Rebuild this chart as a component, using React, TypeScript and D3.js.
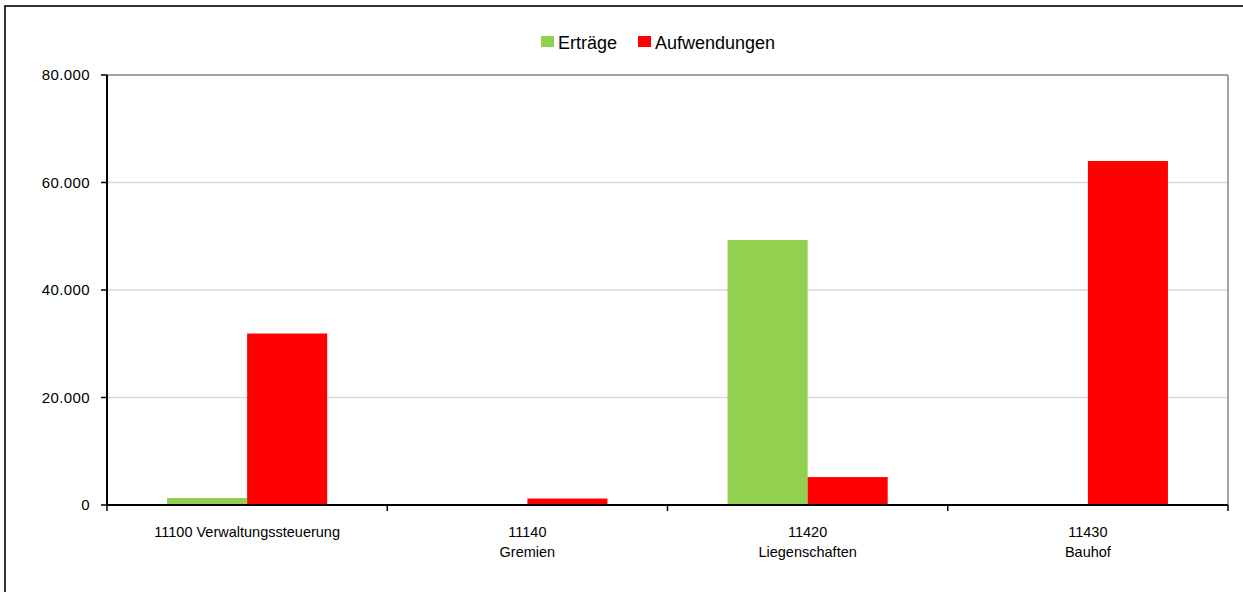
import React from "react";
import * as d3 from "d3";

const categories = ["11100", "11140", "11420", "11430"];
const categoryLabels: string[][] = [
  ["11100 Verwaltungssteuerung"],
  ["11140", "Gremien"],
  ["11420", "Liegenschaften"],
  ["11430", "Bauhof"],
];
const seriesNames = ["Erträge", "Aufwendungen"];
const seriesColors = ["#92D050", "#FF0000"];
const ertraege = [1300, 0, 49300, 0];
const aufwendungen = [31900, 1200, 5200, 64000];
const yTicks = [0, 20000, 40000, 60000, 80000];

const W = 1243;
const H = 592;
const plot = { left: 107, right: 1228, top: 75, bottom: 505 };
const FONT = "'Liberation Sans', Arial, sans-serif";

export default function App() {
  const x = d3
    .scaleBand<string>()
    .domain(categories)
    .range([plot.left, plot.right])
    .paddingInner(0)
    .paddingOuter(0);
  const xs = d3
    .scaleBand<string>()
    .domain(seriesNames)
    .range([0, x.bandwidth()])
    .paddingInner(0)
    .paddingOuter(0.75);
  const y = d3.scaleLinear().domain([0, 80000]).range([plot.bottom, plot.top]);
  const fmt = (v: number) =>
    v === 0 ? "0" : d3.format(",")(v).replace(/,/g, ".");
  const data = [ertraege, aufwendungen];
  const xTickPos = [...categories.map((c) => x(c)!), plot.right];

  return (
    <svg
      width={W}
      height={H}
      style={{ position: "absolute", left: 0, top: 0, background: "#fff" }}
      fontFamily={FONT}
    >
      <rect x={0} y={0} width={W} height={H} fill="#fff" />
      {/* outer frame */}
      <rect x={5} y={6} width={W + 10} height={H + 10} fill="none" stroke="#000" strokeWidth={1.6} />

      {/* gridlines */}
      {yTicks.slice(1, -1).map((t) => (
        <line key={t} x1={plot.left} x2={plot.right} y1={y(t)} y2={y(t)} stroke="#d9d9d9" strokeWidth={1.5} />
      ))}
      {/* plot border top/right */}
      <line x1={plot.left} x2={plot.right} y1={y(80000)} y2={y(80000)} stroke="#868686" strokeWidth={1.5} />
      <line x1={plot.right} x2={plot.right} y1={plot.top} y2={plot.bottom} stroke="#868686" strokeWidth={1.5} />

      {/* bars */}
      {seriesNames.map((s, si) =>
        categories.map((c, ci) => {
          const v = data[si][ci];
          if (!v) return null;
          return (
            <rect
              key={s + c}
              x={x(c)! + xs(s)!}
              y={y(v)}
              width={xs.bandwidth()}
              height={y(0) - y(v)}
              fill={seriesColors[si]}
            />
          );
        })
      )}

      {/* y axis */}
      <line x1={plot.left} x2={plot.left} y1={plot.top} y2={plot.bottom} stroke="#000" strokeWidth={2} />
      {yTicks.map((t) => (
        <g key={t}>
          <line x1={plot.left - 6} x2={plot.left} y1={y(t)} y2={y(t)} stroke="#000" strokeWidth={1.5} />
          <text x={90} y={y(t)} dy="0.35em" textAnchor="end" fontSize={15} letterSpacing={0.4} fill="#000">
            {fmt(t)}
          </text>
        </g>
      ))}

      {/* x axis */}
      <line x1={plot.left} x2={plot.right} y1={plot.bottom} y2={plot.bottom} stroke="#000" strokeWidth={2} />
      {xTickPos.map((p, i) => (
        <line key={i} x1={p} x2={p} y1={plot.bottom} y2={plot.bottom + 6} stroke="#000" strokeWidth={1.5} />
      ))}
      {categories.map((c, ci) => (
        <text key={c} x={x(c)! + x.bandwidth() / 2} textAnchor="middle" fontSize={14.5} fill="#000">
          {categoryLabels[ci].map((line, li) => (
            <tspan key={li} x={x(c)! + x.bandwidth() / 2} y={537 + li * 20}>
              {line}
            </tspan>
          ))}
        </text>
      ))}

      {/* legend */}
      <g>
        <rect x={541} y={36} width={13} height={11} fill={seriesColors[0]} />
        <text x={558} y={49} fontSize={18} fill="#000">{seriesNames[0]}</text>
        <rect x={638} y={36} width={13} height={11} fill={seriesColors[1]} />
        <text x={655} y={49} fontSize={18} fill="#000">{seriesNames[1]}</text>
      </g>
    </svg>
  );
}
